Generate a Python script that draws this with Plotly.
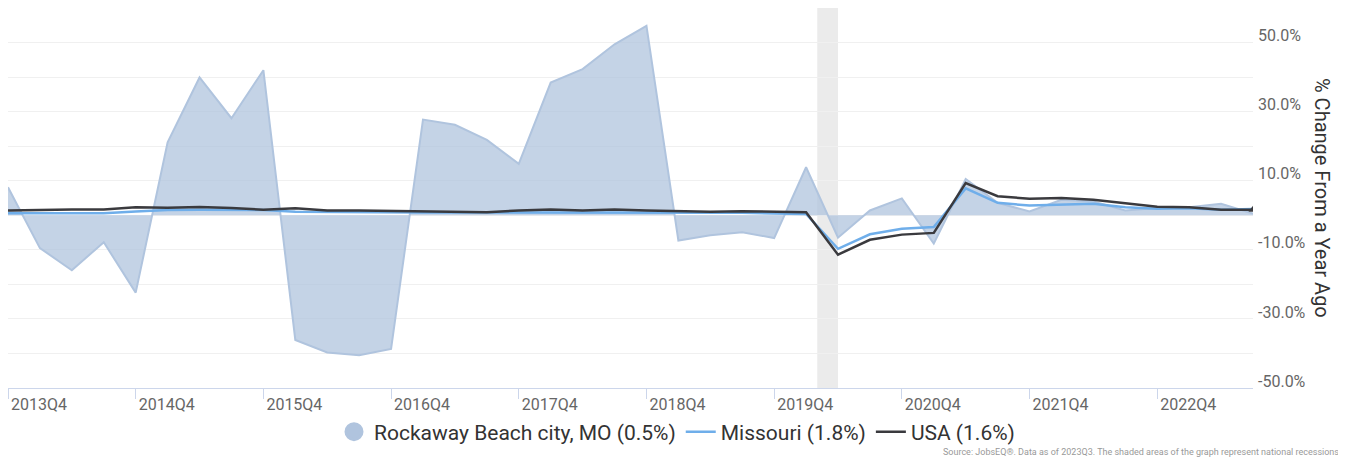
import plotly.graph_objects as go

quarters = [
    "2013Q4", "2014Q1", "2014Q2", "2014Q3", "2014Q4", "2015Q1", "2015Q2", "2015Q3",
    "2015Q4", "2016Q1", "2016Q2", "2016Q3", "2016Q4", "2017Q1", "2017Q2", "2017Q3",
    "2017Q4", "2018Q1", "2018Q2", "2018Q3", "2018Q4", "2019Q1", "2019Q2", "2019Q3",
    "2019Q4", "2020Q1", "2020Q2", "2020Q3", "2020Q4", "2021Q1", "2021Q2", "2021Q3",
    "2021Q4", "2022Q1", "2022Q2", "2022Q3", "2022Q4", "2023Q1", "2023Q2", "2023Q3",
]

# % change from a year ago
rockaway = [8.1, -9.5, -15.9, -7.8, -22.4, 21.1, 39.9, 28.1, 42.0, -36.1,
            -39.7, -40.5, -38.7, 27.7, 26.2, 21.8, 14.9, 38.4, 42.3, 49.5,
            54.8, -7.3, -5.8, -4.9, -6.6, 13.9, -6.5, 1.4, 4.9, -8.2,
            10.5, 3.6, 1.1, 4.5, 4.0, 1.4, 2.1, 2.3, 3.3, 0.5]
missouri = [0.6, 0.6, 0.6, 0.6, 1.1, 1.5, 1.6, 1.6, 1.5, 1.0,
            0.9, 0.9, 0.9, 0.8, 0.8, 0.8, 0.8, 0.8, 0.7, 0.8,
            0.8, 0.7, 0.6, 0.7, 0.5, 0.4, -9.7, -5.5, -3.9, -3.4,
            7.8, 3.6, 2.8, 3.1, 3.3, 2.3, 1.9, 2.0, 1.6, 1.8]
usa = [1.4, 1.6, 1.7, 1.7, 2.3, 2.2, 2.4, 2.1, 1.6, 2.0,
       1.4, 1.4, 1.3, 1.1, 1.0, 0.9, 1.4, 1.7, 1.4, 1.7,
       1.4, 1.2, 1.0, 1.2, 1.1, 0.9, -11.4, -7.1, -5.6, -5.1,
       9.3, 5.5, 4.8, 5.0, 4.5, 3.6, 2.5, 2.3, 1.6, 1.6]

tick_quarters = quarters[::4]
y_ticks = [50, 30, 10, -10, -30, -50]
y_ticklabels = ["50.0%", "30.0%", "10.0%", "-10.0%", "-30.0%", "-50.0%"]

# recession band (index positions on the quarter axis)
recession = (25.35, 26.0)

# the page body adds an 8px offset, so the figure is a bit smaller
W, H = 1338, 456
PLOT_W, PLOT_H = 1245, 380

fig = go.Figure()

# gridlines every 10% via a hidden overlay axis
fig.add_trace(go.Scatter(x=[None], y=[None], yaxis="y2", showlegend=False))

fig.add_trace(go.Scatter(
    x=quarters, y=rockaway, mode="lines", fill="tozeroy",
    line=dict(color="rgb(176,196,222)", width=2),
    fillcolor="rgba(176,196,222,0.75)",
    showlegend=False, hoverinfo="skip",
))
# legend entry for the area (round swatch like the original)
fig.add_trace(go.Scatter(
    x=[None], y=[None], mode="markers",
    marker=dict(color="rgb(176,196,222)", size=16,
                line=dict(color="rgb(176,196,222)", width=3)),
    name="Rockaway Beach city, MO (0.5%)",
))
fig.add_trace(go.Scatter(
    x=quarters, y=missouri, mode="lines",
    line=dict(color="#6faeea", width=2.5),
    name="Missouri (1.8%)",
))
fig.add_trace(go.Scatter(
    x=quarters, y=usa, mode="lines",
    line=dict(color="#3a3a3e", width=2.5),
    name="USA (1.6%)",
))
# marker on the latest USA value
fig.add_trace(go.Scatter(
    x=quarters[-1:], y=usa[-1:], mode="markers",
    marker=dict(symbol="triangle-up", color="#3a3a3e", size=8),
    showlegend=False,
))

fig.add_shape(type="rect", xref="x", yref="paper",
              x0=recession[0], x1=recession[1], y0=0, y1=1,
              fillcolor="#ebebeb", line=dict(width=0), layer="below")

fig.update_layout(
    width=W, height=H,
    margin=dict(l=0, r=W - PLOT_W, t=0, b=H - PLOT_H, autoexpand=False),
    paper_bgcolor="white", plot_bgcolor="white",
    font=dict(family="Roboto", color="#333333"),
    legend=dict(
        orientation="h", xref="container", x=0.5, xanchor="center",
        yref="container", y=(H - 424) / H, yanchor="middle",
        bgcolor="rgba(0,0,0,0)",
        font=dict(size=21, color="#333333"),
        itemsizing="trace", itemwidth=30, tracegroupgap=0,
    ),
    xaxis=dict(
        type="category", range=[0, len(quarters) - 1], automargin=False,
        tickmode="array", tickvals=tick_quarters, ticktext=tick_quarters,
        showgrid=False, showline=True, linecolor="#ccd6eb", linewidth=1,
        ticks="outside", ticklen=10, tickcolor="#ccd6eb",
        tickfont=dict(size=16, color="#666666"),
        ticklabelshift=31, ticklabelstandoff=-8, zeroline=False,
    ),
    yaxis=dict(
        side="right", range=[-50, 60], automargin=False,
        tickmode="array", tickvals=y_ticks, ticktext=y_ticklabels,
        showgrid=False, zeroline=False,
        tickfont=dict(size=16, color="#666666"),
        ticklabelshift=-7, ticklabelstandoff=4,
    ),
    yaxis2=dict(overlaying="y", side="left", range=[-50, 60], dtick=10,
                automargin=False,
                showgrid=True, gridcolor="#f0f0f0", gridwidth=1,
                showticklabels=False, zeroline=False),
)

fig.add_annotation(
    text="% Change From a Year Ago", textangle=90,
    xref="paper", yref="paper", x=1314 / PLOT_W, y=0.5,
    xanchor="center", yanchor="middle", showarrow=False,
    font=dict(size=20, color="#333333"),
)

fig.add_annotation(
    text="Source: JobsEQ®. Data as of 2023Q3. The shaded areas of the graph represent national recessions.",
    xref="paper", yref="paper", x=1335 / PLOT_W, y=(PLOT_H - 444) / PLOT_H,
    xanchor="right", yanchor="middle", showarrow=False,
    font=dict(size=9, color="#999999"),
)

fig.write_html("out.html")
